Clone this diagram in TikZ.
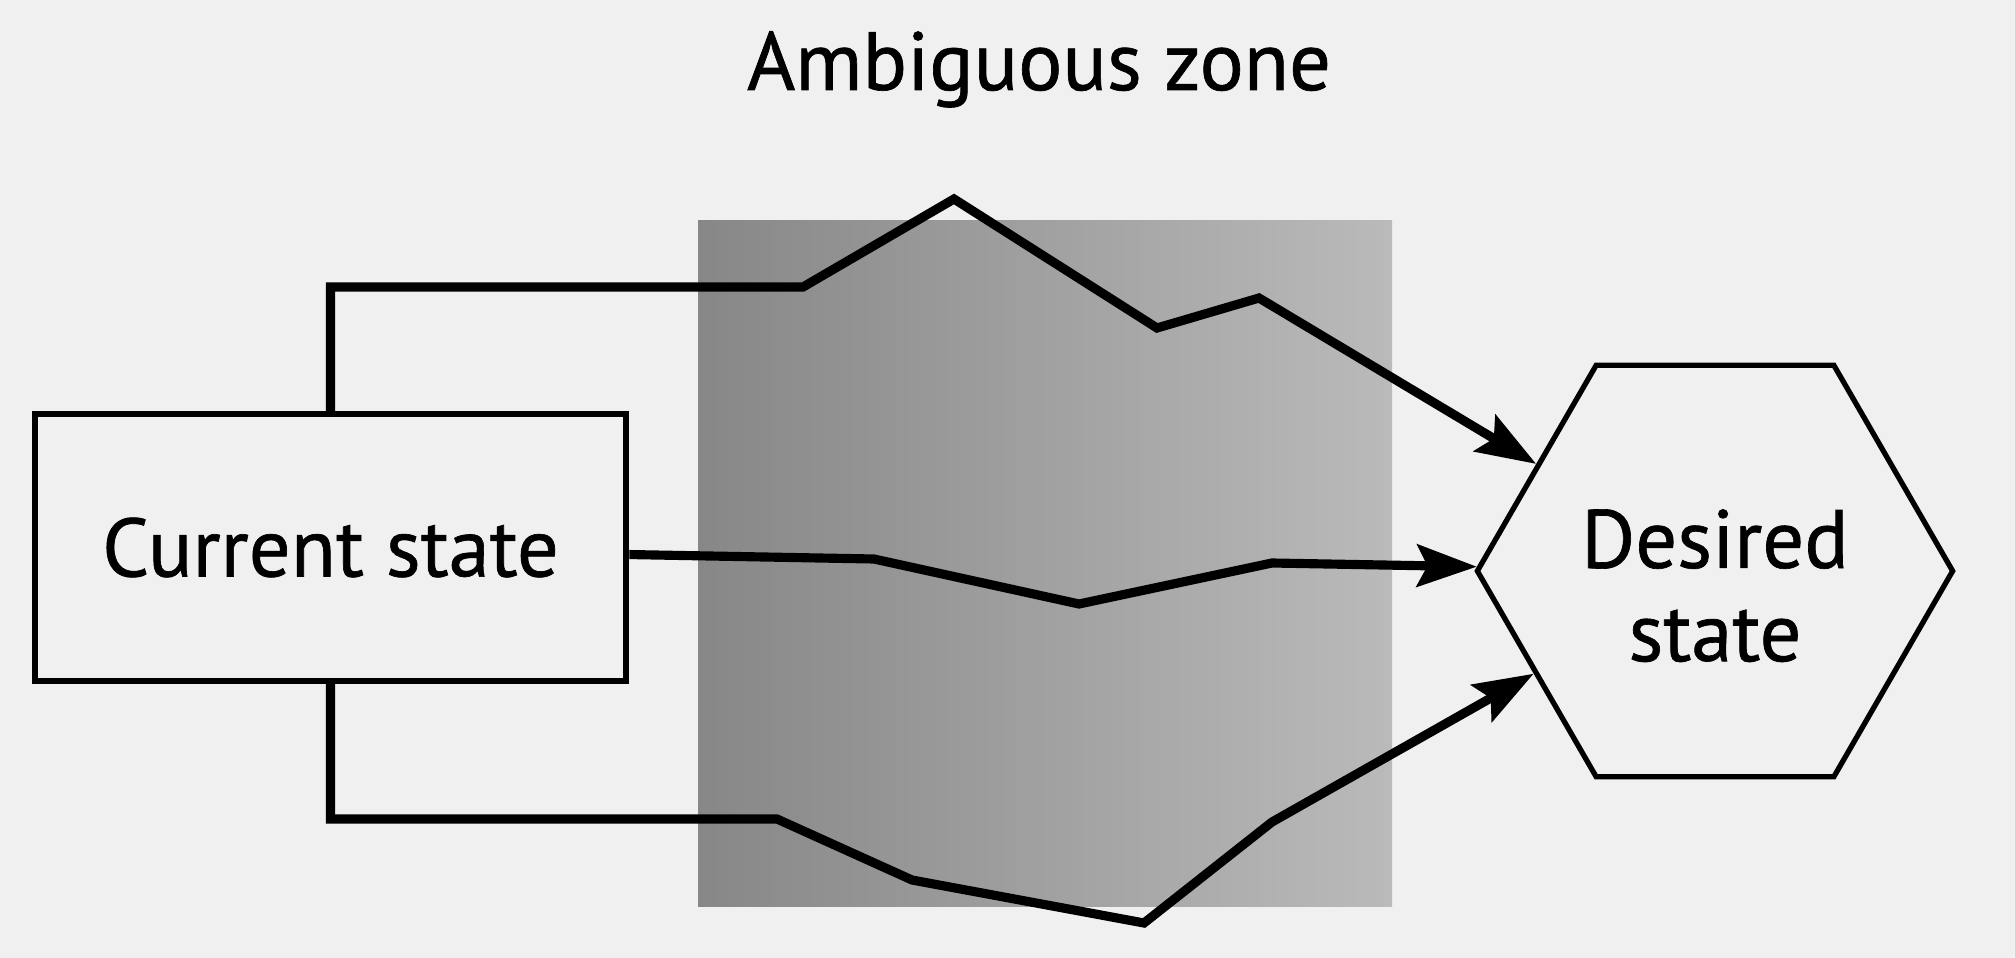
\documentclass[tikz,border=0pt]{standalone}
\usepackage{fontspec}
\setmainfont{PT Sans}[BoldFont={PT Sans},BoldFeatures={FakeBold=0.8}]
\usetikzlibrary{shapes.geometric,arrows.meta}

\begin{document}
\begin{tikzpicture}[x=0.01cm,y=-0.01cm,>={Stealth[length=17pt,width=12pt,inset=3pt]},every text node part/.style={align=center}]
	\tikzstyle{every node}=[font=\fontsize{23.5}{26.5}\selectfont\bfseries];
	\tikzstyle{route}=[line width=2.6pt];
	\fill[black!6] (0,0) rectangle (2015,958);
	\shade[left color=black!47,right color=black!27] (698,221) rectangle (1392,906);
	
	\node (title) [anchor=base] at (1039,90) {Ambiguous zone};
	\node (cur) [draw,line width=1.8pt,minimum width=5.91cm,minimum height=2.67cm] at (330.5,547.5) {Current state};
	\node (des) [draw,line width=1.5pt,regular polygon,regular polygon sides=6,minimum size=4.75cm,inner sep=0pt] at (1715,571) {\rule{0pt}{25pt}Desired\\state};
	
	\draw[route,->] (cur.north) |- (803,287) -- (954,199) -- (1157,328) -- (1259,298) -- (des);
	\draw[route,->] ([yshift=-2pt]cur.east) -- (874,559) -- (1079,604) -- (1272,563) -- (des);
	\draw[route,->] (cur.south) |- (777,819) -- (912,880) -- (1144,923) -- (1272,822) -- (des);
\end{tikzpicture}
\end{document}
